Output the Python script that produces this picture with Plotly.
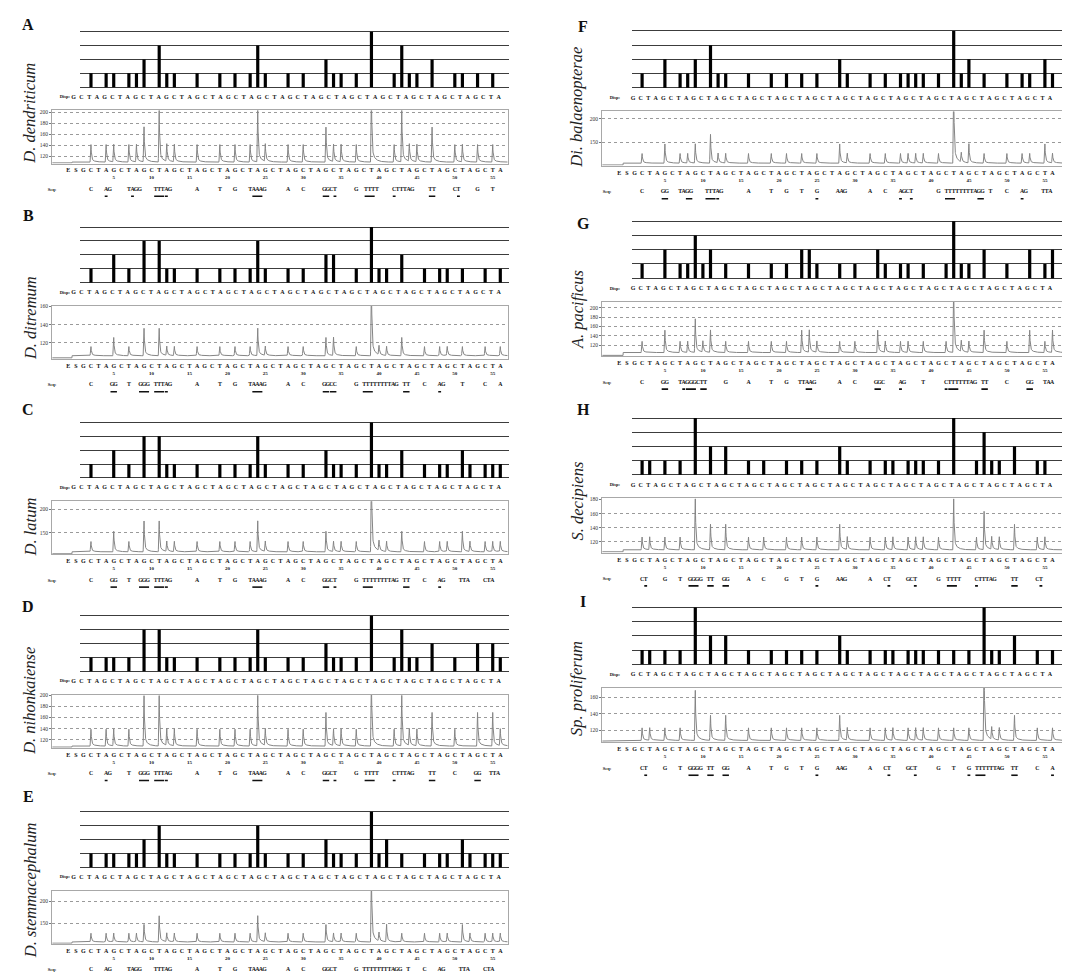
import numpy as np
import plotly.graph_objects as go

W, H = 1070, 972
DISP_ORDER = "GCTA"          # dispensation cycle, repeated 14 times
N_DISP = 56

panel_ids = ["A", "B", "C", "D", "E", "F", "G", "H", "I"]
species_names = ["D. dendriticum", "D. ditremum", "D. latum", "D. nihonkaiense",
                 "D. stemmacephalum", "Di. balaenopterae", "A. pacificus",
                 "S. decipiens", "Sp. proliferum"]

# incorporated nucleotides per dispensation (G C T A repeated)
counts_A = [0,1,0,1, 1,0,1,1, 2,0,3,1, 1,0,0,1, 0,0,1,0, 1,0,1,3, 1,0,0,1,
            0,1,0,0, 2,1,1,0, 1,0,4,0, 0,1,3,1, 1,0,2,0, 0,1,1,0, 1,0,1,0]
counts_B = [0,1,0,0, 2,0,1,0, 3,0,3,1, 1,0,0,1, 0,0,1,0, 1,0,1,3, 1,0,0,1,
            0,1,0,0, 2,2,0,0, 1,0,8,1, 1,0,2,0, 0,1,0,1, 1,0,1,0, 0,1,0,1]
counts_C = [0,1,0,0, 2,0,1,0, 3,0,3,1, 1,0,0,1, 0,0,1,0, 1,0,1,3, 1,0,0,1,
            0,1,0,0, 2,1,1,0, 1,0,8,1, 1,0,2,0, 0,1,0,1, 1,0,2,1, 0,1,1,1]
counts_D = [0,1,0,1, 1,0,1,0, 3,0,3,1, 1,0,0,1, 0,0,1,0, 1,0,1,3, 1,0,0,1,
            0,1,0,0, 2,1,1,0, 1,0,4,0, 0,1,3,1, 1,0,2,0, 0,1,0,0, 2,0,2,1]
counts_E = [0,1,0,1, 1,0,1,1, 2,0,3,1, 1,0,0,1, 0,0,1,0, 1,0,1,3, 1,0,0,1,
            0,1,0,0, 2,1,1,0, 1,0,8,1, 2,0,1,0, 0,1,0,1, 1,0,2,1, 0,1,1,1]
counts_F = [0,1,0,0, 2,0,1,1, 2,0,3,1, 1,0,0,1, 0,0,1,0, 1,0,1,0, 1,0,0,2,
            1,0,0,1, 0,1,0,1, 1,1,1,0, 1,0,8,1, 2,0,1,0, 0,1,0,1, 1,0,2,1]
counts_G = [0,1,0,0, 2,0,1,1, 3,1,2,0, 1,0,0,1, 0,0,1,0, 1,0,2,2, 1,0,0,1,
            0,1,0,0, 2,1,0,1, 1,0,1,0, 0,1,6,1, 1,0,2,0, 0,1,0,0, 2,0,1,2]
counts_H = [0,1,1,0, 1,0,1,0, 4,0,2,0, 2,0,0,1, 0,1,0,0, 1,0,1,0, 1,0,0,2,
            1,0,0,1, 0,1,1,0, 1,1,1,0, 1,0,4,0, 0,1,3,1, 1,0,2,0, 0,1,1,0]
counts_I = [0,1,1,0, 1,0,1,0, 4,0,2,0, 2,0,0,1, 0,0,1,0, 1,0,1,0, 1,0,0,2,
            1,0,0,1, 0,1,1,0, 1,1,1,0, 1,0,1,0, 1,0,6,1, 1,0,2,0, 0,1,0,1]

# underlined dispensations in the Seq row
underline_A = [4, 8, 11, 12, 24, 33, 35, 39, 42, 47, 51]
underline_B = [5, 9, 11, 12, 24, 33, 34, 39, 43, 48]
underline_C = [5, 9, 11, 12, 24, 33, 35, 39, 43, 48]
underline_D = [4, 9, 11, 12, 24, 33, 35, 39, 42, 47, 53]
underline_E = [4, 8, 11, 12, 24, 33, 35, 39, 48]
underline_F = [5, 9, 11, 12, 25, 36, 39, 43, 45, 52]
underline_G = [5, 8, 9, 11, 24, 33, 36, 42, 43, 47, 53]
underline_H = [3, 9, 11, 13, 25, 35, 39, 43, 46, 51, 55]
underline_I = [3, 9, 11, 13, 25, 35, 39, 45, 47, 51, 56]

# pyrogram y-axis ticks, and signal level (baseline, signal per nucleotide)
yticks_A = [120, 140, 160, 180, 200]
yticks_B = [120, 140, 160]
yticks_C = [150, 200]
yticks_D = [120, 140, 160, 180, 200]
yticks_E = [150, 200]
yticks_F = [150, 200]
yticks_G = [120, 140, 160, 180, 200]
yticks_H = [120, 140, 160, 180]
yticks_I = [120, 140, 160]
baseline_vals = [109, 106, 109, 109, 107, 107, 104, 109, 108]
unit_vals = [32, 10, 22, 30, 20, 20, 24, 18, 15]

counts_all = [counts_A, counts_B, counts_C, counts_D, counts_E,
              counts_F, counts_G, counts_H, counts_I]
underline_all = [underline_A, underline_B, underline_C, underline_D, underline_E,
                 underline_F, underline_G, underline_H, underline_I]
yticks_all = [yticks_A, yticks_B, yticks_C, yticks_D, yticks_E,
              yticks_F, yticks_G, yticks_H, yticks_I]

# ---------------- layout / style (pixel geometry) ----------------
COLS = {
    "L": dict(d1=75.4, step=7.58, hist=(72, 501), box=(44, 500), disp_span=(65.7, 490.7),
              rows=dict(base=55.7, disp=65.6, top=79, bot=132.3, letters=139.8,
                        nums=147, seq=158.5, ul=165.2),
              letter_x=20, species_x=22, disp_lab=57, seq_lab=44),
    "R": dict(d1=626.5, step=7.6, hist=(623.5, 1055), box=(594, 1055), disp_span=(625, 1042),
              rows=dict(base=57, disp=67.3, top=80.7, bot=135, letters=142.8,
                        nums=150, seq=161.6, ul=168.3),
              letter_x=575, species_x=569, disp_lab=607, seq_lab=599),
}
PANEL_GEOM = [  # column, hist top line y, letter y, species centre y, pyrogram y-range
    ("L", 20.7, 14, 103, (106.3, 203.7)),
    ("L", 216.7, 205, 308, (102.5, 160.7)),
    ("L", 412.7, 400, 518, (103.6, 217.5)),
    ("L", 606.7, 597, 692, (106.0, 201.0)),
    ("L", 803.3, 788, 882, (103.0, 225.0)),
    ("R", 20.0, 16, 97, (102.0, 215.0)),
    ("R", 211.0, 213, 300, (96.7, 213.0)),
    ("R", 408.3, 400, 492, (105.0, 181.4)),
    ("R", 598.3, 592, 680, (106.0, 171.0)),
]

FONT = "Liberation Serif"
CHAR_PX = 3.6


def dmap(col, px):
    return (px - col["d1"]) / col["step"] + 1


def pxy(py):
    return 1 - py / H


def axname(n, kind):
    return kind if n == 1 else f"{kind}{n}"


def laykey(n, kind):
    return f"{kind}axis" if n == 1 else f"{kind}axis{n}"


def disp_letter(d):
    return DISP_ORDER[(d - 1) % 4]


fig = go.Figure()
layout = dict(width=W, height=H, margin=dict(l=0, r=0, t=0, b=0),
              paper_bgcolor="white", plot_bgcolor="rgba(0,0,0,0)",
              showlegend=False, annotations=[])

for i, pid in enumerate(panel_ids):
    colkey, y0, letter_y, sp_y, ylim = PANEL_GEOM[i]
    col = COLS[colkey]
    rows = col["rows"]
    counts = counts_all[i]
    nh, npy, nt = 3 * i + 1, 3 * i + 2, 3 * i + 3

    # ---- histogram (expected-pattern bars) ----
    pad = 1.5
    hx0, hx1 = col["hist"]
    layout[laykey(nh, "x")] = dict(domain=[hx0 / W, hx1 / W],
                                   range=[dmap(col, hx0), dmap(col, hx1)],
                                   visible=False, anchor=axname(nh, "y"))
    pu = pad * 4 / rows["base"]
    layout[laykey(nh, "y")] = dict(domain=[pxy(y0 + rows["base"] + pad), pxy(y0 - pad)],
                                   range=[-pu, 4 + pu], tickvals=[0, 1, 2, 3, 4],
                                   showticklabels=False, ticks="", showgrid=True,
                                   gridcolor="#3c3c3c", gridwidth=1, zeroline=False,
                                   showline=False, anchor=axname(nh, "x"))
    bx = [d for d in range(1, N_DISP + 1) if counts[d - 1] > 0]
    by = [min(counts[d - 1], 4) for d in bx]
    fig.add_trace(go.Bar(x=bx, y=by, width=0.42, marker=dict(color="black", line=dict(width=0)),
                         xaxis=axname(nh, "x"), yaxis=axname(nh, "y"), hoverinfo="skip"))

    # ---- pyrogram ----
    bx0, bx1 = col["box"]
    xr = [dmap(col, bx0), dmap(col, bx1)]
    layout[laykey(npy, "x")] = dict(domain=[bx0 / W, bx1 / W], range=xr,
                                    showticklabels=False, ticks="", showgrid=False,
                                    zeroline=False, showline=True, mirror=True,
                                    linecolor="#a8a8a8", linewidth=1,
                                    anchor=axname(npy, "y"))
    layout[laykey(npy, "y")] = dict(domain=[pxy(y0 + rows["bot"]), pxy(y0 + rows["top"])],
                                    range=list(ylim), tickvals=yticks_all[i],
                                    ticks="outside", ticklen=2, tickcolor="#777",
                                    tickfont=dict(size=5.5, family=FONT, color="#333"),
                                    showgrid=True, gridcolor="#9a9a9a", griddash="dot",
                                    gridwidth=1, zeroline=False, showline=True, mirror=True,
                                    linecolor="#a8a8a8", linewidth=1,
                                    anchor=axname(npy, "x"))
    base, unit = baseline_vals[i], unit_vals[i]
    xs = np.sort(np.concatenate([np.arange(xr[0] + 0.05, xr[1] - 0.05, 0.02),
                                 np.arange(1, N_DISP + 1, dtype=float)]))
    ys = np.where(xs < -0.5, ylim[0] + 1.2, base).astype(float)
    for d, c in enumerate(counts, start=1):
        if c == 0:
            continue
        h = unit * c
        t = xs - d
        rise = (t > -0.12) & (t < 0)
        ys[rise] += h * (1 + t[rise] / 0.12)
        dec = t >= 0
        ys[dec] += h * (0.84 * np.exp(-t[dec] / 0.07) + 0.16 * np.exp(-t[dec] / 0.45))
    fig.add_trace(go.Scatter(x=xs, y=ys, mode="lines",
                             line=dict(color="#858585", width=1),
                             xaxis=axname(npy, "x"), yaxis=axname(npy, "y"),
                             hoverinfo="skip"))

    # ---- text layer (shares the dispensation scale) ----
    ty0 = y0 - 5
    ty1 = min(y0 + 176, H)
    layout[laykey(nt, "x")] = dict(domain=[bx0 / W, bx1 / W], range=xr, visible=False,
                                   anchor=axname(nt, "y"))
    layout[laykey(nt, "y")] = dict(domain=[pxy(ty1), pxy(ty0)], range=[ty1 - y0, ty0 - y0],
                                   visible=False, anchor=axname(nt, "x"))
    tx, ty = axname(nt, "x"), axname(nt, "y")

    def add_text(x, y, text, size, bold=True, color="#111"):
        fig.add_trace(go.Scatter(x=x, y=y, text=text, mode="text", textposition="middle center",
                                 textfont=dict(size=size, family=FONT, color=color,
                                               weight="bold" if bold else "normal"),
                                 cliponaxis=False, xaxis=tx, yaxis=ty, hoverinfo="skip"))

    # Disp row
    s0, s1 = dmap(col, col["disp_span"][0]), dmap(col, col["disp_span"][1])
    dxs = [s0 + (k - 1) * (s1 - s0) / (N_DISP - 1) for k in range(1, N_DISP + 1)]
    add_text(dxs, [rows["disp"]] * N_DISP, [disp_letter(k) for k in range(1, N_DISP + 1)], 6)
    add_text([dmap(col, col["disp_lab"])], [rows["disp"]], ["Disp:"], 4.5)

    # pyrogram letters and numbers
    px_ = list(range(-1, N_DISP + 1))
    add_text(px_, [rows["letters"]] * len(px_),
             ["E", "S"] + [disp_letter(k) for k in range(1, N_DISP + 1)], 6)
    nums = list(range(5, N_DISP, 5))
    add_text(nums, [rows["nums"]] * len(nums), [str(v) for v in nums], 5)

    # Seq row: letters laid out run by run
    char_d = CHAR_PX / col["step"]
    runs, cur = [], []
    for d in range(1, N_DISP + 1):
        if counts[d - 1] > 0:
            cur.append(d)
        elif cur:
            runs.append(cur)
            cur = []
    if cur:
        runs.append(cur)
    sx, st, spans = [], [], {}
    prev_end = -99
    for run in runs:
        n0 = counts[run[0] - 1]
        start = run[0] - 0.5 * n0 * char_d
        start = max(start, prev_end + 1.2 * char_d)
        x = start
        for d in run:
            n = counts[d - 1]
            spans[d] = (x, x + n * char_d)
            for _ in range(n):
                sx.append(x + 0.5 * char_d)
                st.append(disp_letter(d))
                x += char_d
        prev_end = x
    add_text(sx, [rows["seq"]] * len(sx), st, 5.8)
    add_text([dmap(col, col["seq_lab"])], [rows["seq"]], ["Seq:"], 4.5)

    ulx, uly = [], []
    for d in underline_all[i]:
        if d in spans:
            a, b = spans[d]
            b = min(b, a + 3 * char_d)
            ulx += [a + 0.05, b - 0.05, None]
            uly += [rows["ul"], rows["ul"], None]
    fig.add_trace(go.Scatter(x=ulx, y=uly, mode="lines", line=dict(color="#111", width=1.6),
                             cliponaxis=False, xaxis=tx, yaxis=ty, hoverinfo="skip"))

    # panel letter and species name
    layout["annotations"].append(dict(
        text=f"<b>{pid}</b>", x=col["letter_x"] / W, y=pxy(letter_y), xref="paper",
        yref="paper", showarrow=False, xanchor="center", yanchor="middle",
        font=dict(size=16, family=FONT, color="#111")))
    layout["annotations"].append(dict(
        text=f"<i>{species_names[i]}</i>", x=col["species_x"] / W, y=pxy(sp_y),
        xref="paper", yref="paper", showarrow=False, textangle=-90,
        xanchor="center", yanchor="middle",
        font=dict(size=16.5, family=FONT, color="#222")))

fig.update_layout(**layout)
fig.write_html("out.html")
